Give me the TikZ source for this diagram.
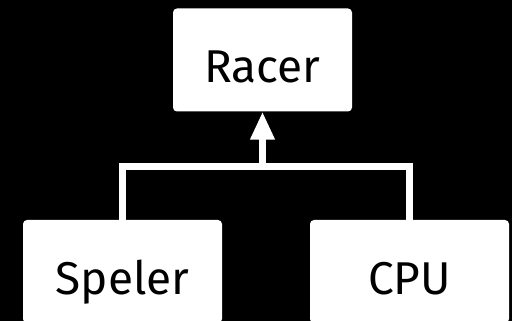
\documentclass[tikz,border=0pt]{standalone}
\usepackage{fontspec}
\setmainfont{Fira Sans}
\usetikzlibrary{arrows.meta}
\begin{document}
\begin{tikzpicture}[x=1pt,y=1pt,
  box/.style={fill=white, rounded corners=4pt, minimum height=103pt,
    text height=46pt, text depth=0pt, inner sep=0pt,
    font=\fontsize{46}{54}\selectfont, text=black},
  link/.style={draw=white, line width=7pt, line join=miter}]
  \fill[black] (0,0) rectangle (512,321);
  \useasboundingbox (0,0) rectangle (512,321);
  \node[box, minimum width=179pt] (racer) at (262.5,261) {Racer};
  \node[box, minimum width=199pt] (speler) at (122.5,49.5) {Speler};
  \node[box, minimum width=199pt] (cpu) at (409.5,49.5) {CPU};
  \coordinate (j) at (262.5,154.5);
  \draw[link] (speler.north) |- (j) -| (cpu.north);
  \draw[link, -{Triangle[length=28pt,width=23pt]}] (j) -- (racer.south);
\end{tikzpicture}
\end{document}
